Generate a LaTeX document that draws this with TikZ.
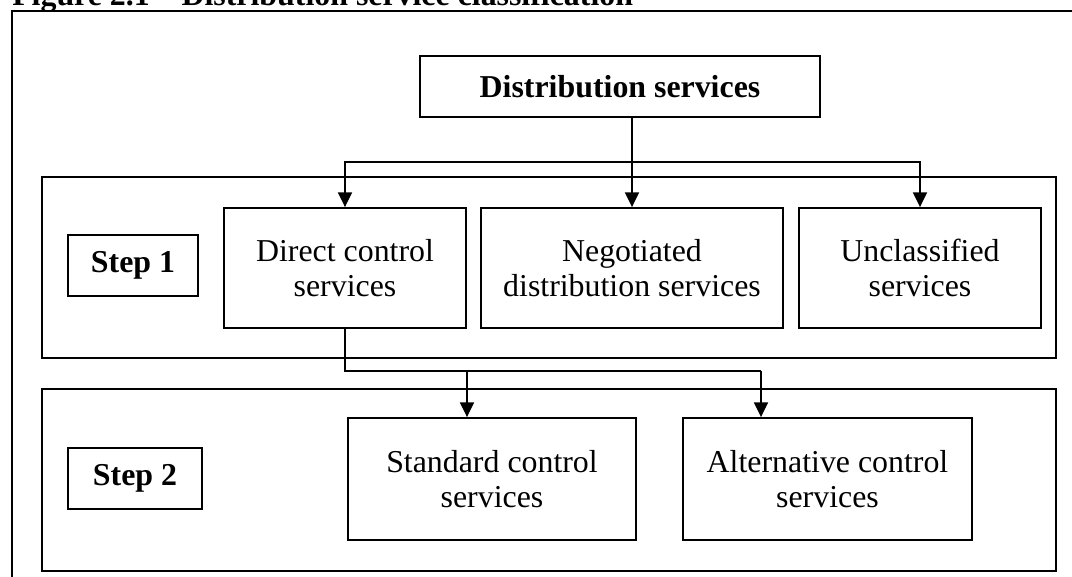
\documentclass[tikz,border=0pt]{standalone}
\usepackage{fontspec}
\setmainfont{Liberation Serif}
\usetikzlibrary{arrows.meta, positioning}
\newcommand{\diagfont}{\fontsize{23.9}{26.8}\selectfont}
\tikzset{
  box/.style={draw, line width=1.4pt, inner sep=0pt, align=center, font=\diagfont},
  boldbox/.style={box, font=\diagfont\bfseries},
  stepbox/.style={boldbox, minimum height=45.75pt},
  frame/.style={draw, line width=1.3pt, inner sep=0pt, minimum width=760.5pt},
  link/.style={line width=1.1pt},
  arr/.style={link, -{Triangle[width=10.5pt,length=11pt]}}
}

\begin{document}
\begin{tikzpicture}[x=0.75pt,y=-0.75pt]
\useasboundingbox (0,0) rectangle (1072,576);
\draw[line width=1.8pt] (12,11) rectangle (1090,600);
\node[anchor=base west, inner sep=0pt, font=\diagfont\bfseries] (title) at (12,5) {Figure 2.1 -- Distribution service classification};

\node[frame, minimum height=135.75pt] (stepone) at (549,267.5) {};
\node[frame, minimum height=136.5pt] (steptwo) at (549,480) {};

\node[boldbox, minimum width=300pt, minimum height=45.75pt] (dist) at (620,86.5) {Distribution services};

\node[stepbox, minimum width=97.5pt] (lblA) at (133,265.5) {Step 1};
\node[stepbox, minimum width=100.5pt] (lblB) at (135,478.5) {Step 2};

\node[box, minimum width=181.5pt, minimum height=90pt] (direct) at (345,268) {Direct control\\services};
\node[box, minimum width=226.5pt, minimum height=90pt] (negot) at (632,268) {Negotiated\\distribution services};
\node[box, minimum width=181.5pt, minimum height=90pt] (unclass) at (920,268) {Unclassified\\services};

\node[box, minimum width=216pt, minimum height=91.5pt] (standard) at (492,479) {Standard control\\services};
\node[box, minimum width=216.75pt, minimum height=91.5pt] (altern) at (827.5,479) {Alternative control\\services};

\coordinate (busA) at (632,162);
\draw[link] (busA |- dist.south) -- (busA);
\draw[arr] (busA) -| (direct.north);
\draw[arr] (busA) -- (negot.north);
\draw[arr] (busA) -| (unclass.north);

\coordinate (busB) at (345,371);
\coordinate (tapS) at (467,371);
\coordinate (tapT) at (761,371);
\draw[link] (direct.south) -- (busB) -- (tapT);
\draw[arr] (tapS) -- (tapS |- standard.north);
\draw[arr] (tapT) -- (tapT |- altern.north);
\end{tikzpicture}
\end{document}
